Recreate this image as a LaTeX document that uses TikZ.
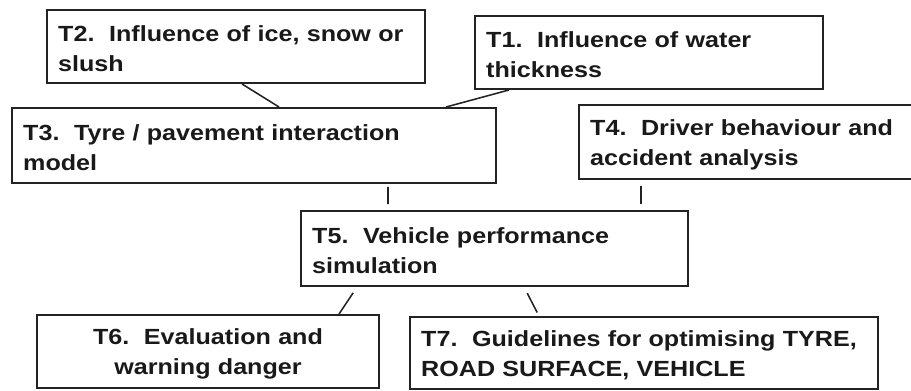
\documentclass[tikz,border=0pt]{standalone}
\usepackage{fontspec}
\setmainfont{Liberation Sans}[FakeStretch=1.145]
\usetikzlibrary{calc}
\definecolor{tkline}{RGB}{35,35,35}
\definecolor{tktext}{RGB}{25,25,25}

\begin{document}
\begin{tikzpicture}[
    task/.style={rectangle, draw=tkline, line width=1.4pt, inner xsep=0.28cm, inner ysep=0pt,
                 align=left, text=tktext, font=\fontsize{15.6}{21.3}\selectfont\bfseries,
                 execute at begin node=\strut},
    link/.style={draw=tkline, line width=1.1pt},
  ]
  \useasboundingbox (0,0) rectangle (22.775,9.75);

  %% ================= the upper row: T2, T1 =================
  \node[task, text width=8.89cm, minimum height=1.825cm] (t2) at (5.9,8.5875)
    {T2.\ \ Influence of ice, snow or\\slush};
  \node[task, text width=8.14cm, minimum height=1.825cm] (t1) at (16.225,8.4375)
    {T1.\ \ Influence of water\\thickness};

  %% ================= the middle row: T3, T4, T5 =================
  \node[task, text width=11.54cm, minimum height=1.875cm] (t3) at (6.35,6.1125)
    {T3.\ \ Tyre / pavement interaction\\model};
  \node[task, text width=7.79cm, minimum height=1.85cm] (t4) at (18.65,6.2)
    {T4.\ \ Driver behaviour and\\accident analysis};
  \node[task, text width=9.115cm, minimum height=1.875cm] (t5) at (12.3625,3.5375)
    {T5.\ \ Vehicle performance\\simulation};

  %% ================= the lower row: T6, T7 =================
  \node[task, align=center, text width=7.99cm, minimum height=1.825cm] (t6) at (5.2,0.9625)
    {T6.\ \ Evaluation and\\warning danger};
  \node[task, text width=11.14cm, minimum height=1.8cm] (t7) at (16.1,0.925)
    {T7.\ \ Guidelines for optimising TYRE,\\ROAD SURFACE, VEHICLE};

  %% ================= links =================
  \draw[link] ($(t2.south west)+(4.9,0)$) -- ($(t3.north west)+(6.7,0)$);
  \draw[link] ($(t1.south west)+(0.875,0)$) -- ($(t3.north west)+(10.875,0)$);
  \draw[link, shorten <=0.075cm, shorten >=0.15cm]
    ($(t3.south west)+(9.425,0)$) -- ($(t5.north west)+(2.2,0)$);
  \draw[link, shorten <=0.15cm, shorten >=0.15cm]
    ($(t4.south west)+(1.575,0)$) -- ($(t5.north west)+(8.525,0)$);
  \draw[link, shorten <=0.175cm] ($(t5.south west)+(1.425,0)$) -- ($(t6.north west)+(7.575,0)$);
  \draw[link, shorten <=0.175cm, shorten >=0.1cm]
    ($(t5.south west)+(5.6,0)$) -- ($(t7.north west)+(3.25,0)$);

\end{tikzpicture}
\end{document}
